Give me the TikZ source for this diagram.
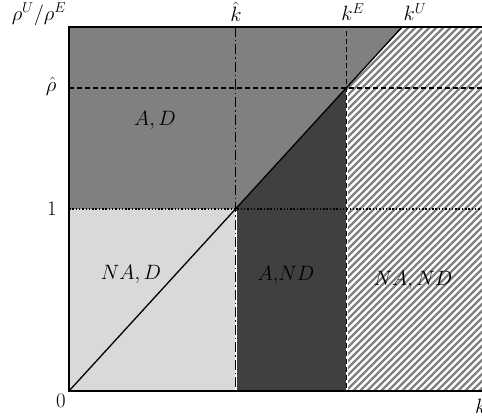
\documentclass[tikz,border=0pt]{standalone}
\usepackage{amsmath}
\begin{document}
\begin{tikzpicture}[x=1pt,y=-1pt,
  lbl/.style={font=\fontsize{20}{22}\selectfont, inner sep=0pt},
  axisline/.style={line width=1.6pt},
  hatchline/.style={line width=2.4pt, draw=black!50}]
\useasboundingbox (0,0) rectangle (482,420);
% key points
\coordinate (O) at (69,391);
\coordinate (TL) at (69,27);
\coordinate (TR) at (482,27);
\coordinate (BR) at (482,391);
\coordinate (KU) at (402,27);
\coordinate (P1) at (235.5,209);
\coordinate (PR) at (346.5,88);
% regions
\fill[black!50] (TL) -- (KU) -- (P1) -- (69,209) -- cycle;
\fill[black!75] (P1) -- (PR) -- (346.5,391) -- (235.5,391) -- cycle;
\fill[black!15] (69,209) -- (P1) -- (235.5,391) -- (O) -- cycle;
\begin{scope}
  \clip (KU) -- (TR) -- (BR) -- (346.5,391) -- (PR) -- cycle;
  \fill[white] (KU) -- (TR) -- (BR) -- (346.5,391) -- (PR) -- cycle;
  \foreach \c in {366,373,...,880}
    \draw[hatchline] (\c-400,400) -- (\c-20,20);
\end{scope}
% white gaps under vertical lines
\draw[white, line width=2pt] (235.5,211) -- (235.5,391);
\draw[white, line width=2pt] (346.5,90) -- (346.5,391);
% guide lines
\draw[line width=1.3pt, dash pattern=on 10pt off 3pt on 1.5pt off 3pt] (235.5,27) -- (235.5,391);
\draw[line width=1.3pt, dash pattern=on 5pt off 3pt] (346.5,31) -- (346.5,391);
\draw[line width=1.3pt, dash pattern=on 5pt off 3pt] (69,88) -- (482,88);
\draw[line width=1.2pt, dash pattern=on 1.5pt off 1.8pt] (69,209) -- (482,209);
% diagonal
\draw[line width=1.3pt] (O) -- (KU);
% axes and frame
\draw[axisline] (TR) -- (TL) -- (O) -- (BR);
% labels
\node[lbl] (ylab) at (39,14) {$\rho^U/\rho^E$};
\node[lbl] (khat) at (236,12) {$\hat{k}$};
\node[lbl] (kE) at (353,12) {$k^E$};
\node[lbl] (kU) at (415,12) {$k^U$};
\node[lbl] (rhohat) at (51,86) {$\hat{\rho}$};
\node[lbl] (one) at (52,209) {$1$};
\node[lbl] (zero) at (61,401) {$0$};
\node[lbl, anchor=west] (kx) at (475,406) {$k$};
\node[lbl] (AD) at (155,120) {$A,D$};
\node[lbl] (NAD) at (131,274) {$NA,D$};
\node[lbl] (AND) at (286,275) {$A{,}ND$};
\node[lbl] (NAND) at (413,280) {$NA,ND$};
\end{tikzpicture}
\end{document}
